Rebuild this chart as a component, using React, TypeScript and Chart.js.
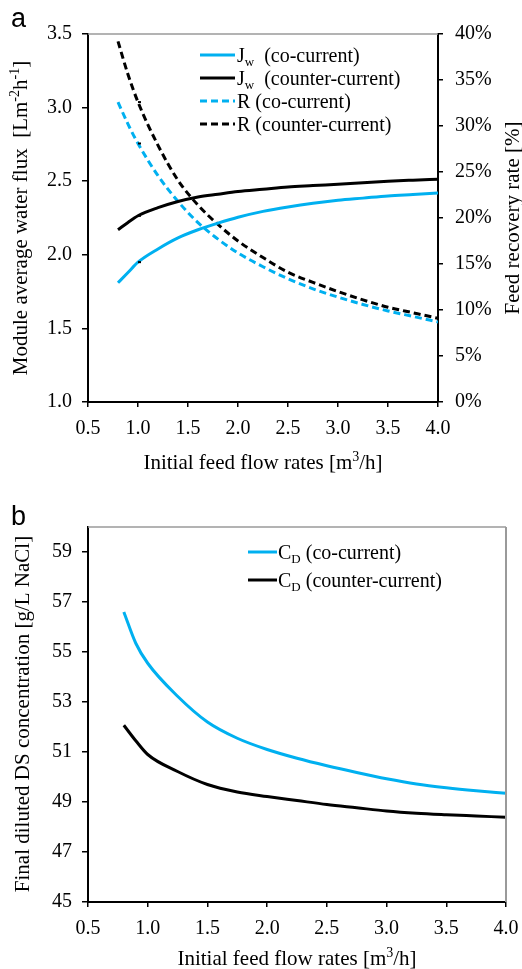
import React, { useEffect, useRef } from "react";
import { Chart, registerables } from "chart.js";
Chart.register(...registerables);

// ---------- Panel a data ----------
const flowA = [0.8, 0.9, 1.0, 1.2, 1.4, 1.6, 1.8, 2.0, 2.25, 2.5, 2.75, 3.0, 3.25, 3.5, 3.75, 4.0];
const jwCo = [1.81, 1.88, 1.95, 2.04, 2.115, 2.17, 2.215, 2.255, 2.295, 2.325, 2.35, 2.37, 2.385, 2.4, 2.41, 2.42];
const jwCounter = [2.17, 2.22, 2.265, 2.32, 2.362, 2.393, 2.412, 2.43, 2.445, 2.46, 2.47, 2.48, 2.49, 2.5, 2.507, 2.513];
const rCo = [32.6, 30.2, 28.1, 24.6, 21.8, 19.5, 17.7, 16.2, 14.7, 13.4, 12.3, 11.4, 10.6, 9.9, 9.3, 8.7];
const rCounter = [39.2, 35.6, 32.6, 27.9, 24.1, 21.4, 19.3, 17.5, 15.7, 14.1, 13.0, 12.0, 11.1, 10.3, 9.7, 9.1];
const fluxMarkX = [1.0, 1.0, 1.52];
const fluxMarkY = [1.95, 2.265, 2.385];
const recMarkX = [1.0, 1.0];
const recMarkY = [28.1, 32.6];
const xTickVals = [0.5, 1.0, 1.5, 2.0, 2.5, 3.0, 3.5, 4.0];
const fluxTickVals = [1.0, 1.5, 2.0, 2.5, 3.0, 3.5];
const recTickVals = [0, 5, 10, 15, 20, 25, 30, 35, 40];

// ---------- Panel b data ----------
const flowB = [0.8, 0.9, 1.0, 1.25, 1.5, 1.75, 2.0, 2.25, 2.5, 2.75, 3.0, 3.25, 3.5, 3.75, 4.0];
const cdCo = [56.6, 55.35, 54.55, 53.23, 52.2, 51.55, 51.1, 50.75, 50.45, 50.18, 49.93, 49.72, 49.57, 49.45, 49.35];
const cdCounter = [52.07, 51.45, 50.9, 50.22, 49.7, 49.4, 49.22, 49.06, 48.9, 48.77, 48.64, 48.55, 48.49, 48.44, 48.39];
const cdTickVals = [45, 47, 49, 51, 53, 55, 57, 59];

const SERIF = '"Liberation Serif", "Times New Roman", serif';
const SANS = '"Liberation Sans", Arial, sans-serif';
const BLUE = "#00B0F0";
const DASH = [7, 4];

type Seg = { t: string; k?: "sub" | "sup" };

function segSize(size: number, s: Seg) {
  return s.k ? Math.round(size * 0.65) : size;
}
function richWidth(ctx: CanvasRenderingContext2D, segs: Seg[], size: number) {
  let w = 0;
  for (const s of segs) {
    ctx.font = `${segSize(size, s)}px ${SERIF}`;
    w += ctx.measureText(s.t).width;
  }
  return w;
}
function drawRich(
  ctx: CanvasRenderingContext2D,
  segs: Seg[],
  x: number,
  y: number,
  size: number,
  align: "left" | "center",
  rot: number
) {
  ctx.save();
  ctx.translate(x, y);
  ctx.rotate(rot);
  ctx.fillStyle = "#000";
  ctx.textBaseline = "alphabetic";
  ctx.textAlign = "left";
  const total = richWidth(ctx, segs, size);
  let cx = align === "center" ? -total / 2 : 0;
  for (const s of segs) {
    ctx.font = `${segSize(size, s)}px ${SERIF}`;
    const dy = s.k === "sub" ? size * 0.22 : s.k === "sup" ? -size * 0.36 : 0;
    ctx.fillText(s.t, cx, size * 0.33 + dy);
    cx += ctx.measureText(s.t).width;
  }
  ctx.restore();
}

type Title = { segs: Seg[]; x: number; y: number; rot: number; size: number };
type LegendRow = { y: number; color: string; dash: number[]; segs: Seg[] };
type Overlay = {
  grayTop: boolean;
  grayRight: boolean;
  letter: string;
  letterX: number;
  letterY: number;
  titles: Title[];
  legX0: number;
  legX1: number;
  legTx: number;
  legSize: number;
  rows: LegendRow[];
};

function makeOverlay(o: Overlay) {
  return {
    id: "overlay",
    afterDraw(chart: any) {
      const ctx: CanvasRenderingContext2D = chart.ctx;
      const a = chart.chartArea;
      ctx.save();
      ctx.strokeStyle = "#9a9a9a";
      ctx.lineWidth = 1.5;
      if (o.grayTop) {
        ctx.beginPath();
        ctx.moveTo(a.left, a.top);
        ctx.lineTo(a.right, a.top);
        ctx.stroke();
      }
      if (o.grayRight) {
        ctx.lineWidth = 2;
        ctx.beginPath();
        ctx.moveTo(a.right, a.top);
        ctx.lineTo(a.right, a.bottom);
        ctx.stroke();
      }
      ctx.restore();
      // panel letter
      ctx.save();
      ctx.font = `27px ${SANS}`;
      ctx.fillStyle = "#000";
      ctx.textBaseline = "alphabetic";
      ctx.fillText(o.letter, o.letterX, o.letterY);
      ctx.restore();
      // titles
      for (const t of o.titles) drawRich(ctx, t.segs, t.x, t.y, t.size, "center", t.rot);
      // legend
      for (const r of o.rows) {
        ctx.save();
        ctx.strokeStyle = r.color;
        ctx.lineWidth = 3;
        ctx.setLineDash(r.dash);
        ctx.beginPath();
        ctx.moveTo(o.legX0, r.y);
        ctx.lineTo(o.legX1, r.y);
        ctx.stroke();
        ctx.restore();
        drawRich(ctx, r.segs, o.legTx, r.y, o.legSize, "left", 0);
      }
    },
  };
}

function lineDs(label: string, xs: number[], ys: number[], color: string, dash: number[], axis: string) {
  return {
    type: "line",
    label,
    data: xs.map((x, i) => ({ x, y: ys[i] })),
    borderColor: color,
    backgroundColor: color,
    borderWidth: 3,
    borderDash: dash,
    pointRadius: 0,
    cubicInterpolationMode: "monotone",
    fill: false,
    yAxisID: axis,
  };
}
function markDs(xs: number[], ys: number[], axis: string) {
  return {
    type: "line",
    label: "",
    data: xs.map((x, i) => ({ x, y: ys[i] })),
    showLine: false,
    pointStyle: "dash",
    pointRadius: 3,
    borderColor: "#000",
    backgroundColor: "#000",
    borderWidth: 2,
    yAxisID: axis,
  };
}

const tickFont = { family: SERIF, size: 20 };
function axisCommon(tickLen: number) {
  return {
    grid: { display: true, drawOnChartArea: false, drawTicks: true, tickLength: tickLen, color: "#000", lineWidth: 1.5 },
    border: { display: true, color: "#000", width: 2 },
  };
}

const fmt1 = (v: any) => Number(v).toFixed(1);
const fitX = (h: number) => (s: any) => {
  s.height = h;
  s.paddingLeft = 0;
  s.paddingRight = 0;
};

export default function App() {
  const refA = useRef<HTMLCanvasElement>(null);
  const refB = useRef<HTMLCanvasElement>(null);

  useEffect(() => {
    const chartA = new Chart(refA.current as HTMLCanvasElement, {
      type: "line",
      data: {
        datasets: [
          markDs(fluxMarkX, fluxMarkY, "y"),
          markDs(recMarkX, recMarkY, "y1"),
          lineDs("Jw (co-current)", flowA, jwCo, BLUE, [], "y"),
          lineDs("Jw (counter-current)", flowA, jwCounter, "#000", [], "y"),
          lineDs("R (co-current)", flowA, rCo, BLUE, DASH, "y1"),
          lineDs("R (counter-current)", flowA, rCounter, "#000", DASH, "y1"),
        ] as any,
      },
      options: {
        animation: false,
        responsive: false,
        layout: { padding: { top: 34, left: 0, right: 0, bottom: 0 } },
        plugins: { legend: { display: false }, tooltip: { enabled: false } },
        scales: {
          x: {
            type: "linear",
            min: 0.5,
            max: 4.0,
            afterBuildTicks: (s: any) => { s.ticks = xTickVals.map((v) => ({ value: v })); },
            afterFit: fitX(78),
            ticks: { font: tickFont, color: "#000", padding: 10, maxRotation: 0, autoSkip: false, callback: fmt1 },
            ...axisCommon(5),
          },
          y: {
            type: "linear",
            position: "left",
            min: 1.0,
            max: 3.5,
            afterBuildTicks: (s: any) => { s.ticks = fluxTickVals.map((v) => ({ value: v })); },
            afterFit: (s: any) => { s.width = 88; },
            ticks: { font: tickFont, color: "#000", padding: 10, callback: fmt1 },
            ...axisCommon(6),
          },
          y1: {
            type: "linear",
            position: "right",
            min: 0,
            max: 40,
            afterBuildTicks: (s: any) => { s.ticks = recTickVals.map((v) => ({ value: v })); },
            afterFit: (s: any) => { s.width = 84; },
            ticks: { font: tickFont, color: "#000", padding: 12, callback: (v: any) => `${v}%` },
            ...axisCommon(5),
          },
        },
      } as any,
      plugins: [
        makeOverlay({
          grayTop: true,
          grayRight: false,
          letter: "a",
          letterX: 11,
          letterY: 27,
          titles: [
            { segs: [{ t: "Initial feed flow rates [m" }, { t: "3", k: "sup" }, { t: "/h]" }], x: 263, y: 462, rot: 0, size: 21 },
            {
              segs: [{ t: "Module average water flux  [Lm" }, { t: "-2", k: "sup" }, { t: "h" }, { t: "-1", k: "sup" }, { t: "]" }],
              x: 20, y: 218, rot: -Math.PI / 2, size: 21,
            },
            { segs: [{ t: "Feed recovery rate [%]" }], x: 512, y: 218, rot: -Math.PI / 2, size: 21 },
          ],
          legX0: 200,
          legX1: 235,
          legTx: 237,
          legSize: 20,
          rows: [
            { y: 55, color: BLUE, dash: [], segs: [{ t: "J" }, { t: "w", k: "sub" }, { t: "  (co-current)" }] },
            { y: 78, color: "#000", dash: [], segs: [{ t: "J" }, { t: "w", k: "sub" }, { t: "  (counter-current)" }] },
            { y: 101, color: BLUE, dash: DASH, segs: [{ t: "R (co-current)" }] },
            { y: 124, color: "#000", dash: DASH, segs: [{ t: "R (counter-current)" }] },
          ],
        }),
      ],
    });

    const chartB = new Chart(refB.current as HTMLCanvasElement, {
      type: "line",
      data: {
        datasets: [
          lineDs("CD (co-current)", flowB, cdCo, BLUE, [], "y"),
          lineDs("CD (counter-current)", flowB, cdCounter, "#000", [], "y"),
        ] as any,
      },
      options: {
        animation: false,
        responsive: false,
        layout: { padding: { top: 47, left: 0, right: 16, bottom: 0 } },
        plugins: { legend: { display: false }, tooltip: { enabled: false } },
        scales: {
          x: {
            type: "linear",
            min: 0.5,
            max: 4.0,
            afterBuildTicks: (s: any) => { s.ticks = xTickVals.map((v) => ({ value: v })); },
            afterFit: fitX(67),
            ticks: { font: tickFont, color: "#000", padding: 10, maxRotation: 0, autoSkip: false, callback: fmt1 },
            ...axisCommon(5),
          },
          y: {
            type: "linear",
            position: "left",
            min: 45,
            max: 60,
            afterBuildTicks: (s: any) => { s.ticks = cdTickVals.map((v) => ({ value: v })); },
            afterFit: (s: any) => { s.width = 88; },
            ticks: { font: tickFont, color: "#000", padding: 10, callback: (v: any) => `${v}` },
            ...axisCommon(6),
          },
        },
      } as any,
      plugins: [
        makeOverlay({
          grayTop: true,
          grayRight: true,
          letter: "b",
          letterX: 11,
          letterY: 45,
          titles: [
            { segs: [{ t: "Initial feed flow rates [m" }, { t: "3", k: "sup" }, { t: "/h]" }], x: 297, y: 478, rot: 0, size: 21 },
            { segs: [{ t: "Final diluted DS concentration [g/L NaCl]" }], x: 22, y: 234, rot: -Math.PI / 2, size: 21 },
          ],
          legX0: 248,
          legX1: 277,
          legTx: 278,
          legSize: 20,
          rows: [
            { y: 72, color: BLUE, dash: [], segs: [{ t: "C" }, { t: "D", k: "sub" }, { t: " (co-current)" }] },
            { y: 100, color: "#000", dash: [], segs: [{ t: "C" }, { t: "D", k: "sub" }, { t: " (counter-current)" }] },
          ],
        }),
      ],
    });

    return () => {
      chartA.destroy();
      chartB.destroy();
    };
  }, []);

  return (
    <div style={{ position: "absolute", left: 0, top: 0, width: 522, height: 969, background: "#fff" }}>
      <canvas ref={refA} width={522} height={480} style={{ position: "absolute", left: 0, top: 0, width: 522, height: 480 }} />
      <canvas ref={refB} width={522} height={489} style={{ position: "absolute", left: 0, top: 480, width: 522, height: 489 }} />
    </div>
  );
}
